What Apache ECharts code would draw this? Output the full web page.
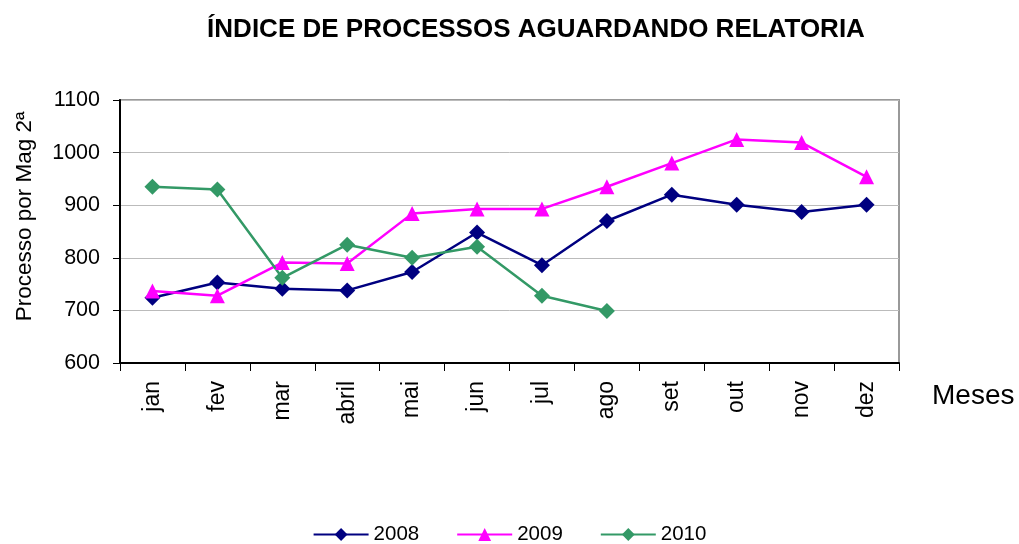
<!DOCTYPE html>
<html>
<head>
<meta charset="utf-8">
<script src="https://cdn.jsdelivr.net/npm/echarts@6/dist/echarts.min.js"></script>
<style>
  html, body { margin: 0; padding: 0; background: #fff; }
  #chart { width: 1019px; height: 544px; }
</style>
</head>
<body>
<div id="chart"></div>
<script>
// dados
const meses = ["jan", "fev", "mar", "abril", "mai", "jun", "jul", "ago", "set", "out", "nov", "dez"];
const serie2008 = [724, 753, 741, 738, 773, 848, 786, 870, 920, 901, 887, 901];
const serie2009 = [737, 728, 791, 789, 884, 893, 893, 935, 980, 1025, 1019, 954];
const serie2010 = [935, 930, 762, 825, 800, 821, 728, 699];
const yTicks = { min: 600, max: 1100, interval: 100 };

const fonte = "Arial, 'Liberation Sans', sans-serif";

let myChart = echarts.init(document.getElementById("chart"));

function linha(name, data, color, symbol, size) {
  return {
    name,
    type: "line",
    data,
    symbol,
    symbolSize: size,
    color,
    lineStyle: { color, width: 2.5 },
    itemStyle: { color },
    emphasis: { disabled: true },
  };
}

let option = {
  animation: false,
  title: [
    {
      text: "ÍNDICE DE PROCESSOS AGUARDANDO RELATORIA",
      left: 531,
      top: 12,
      textAlign: "center",
      textStyle: { fontFamily: fonte, fontSize: 26, fontWeight: "bold", color: "#000" },
    },
    {
      text: "Meses",
      left: 927,
      top: 377,
      textStyle: { fontFamily: fonte, fontSize: 28, fontWeight: "normal", color: "#000" },
    },
  ],
  grid: {
    left: 120,
    right: 120,
    top: 100,
    bottom: 181,
    show: true,
    borderColor: "#999",
    borderWidth: 2,
    containLabel: false,
  },
  legend: {
    top: 519,
    left: "center",
    itemWidth: 55,
    itemHeight: 16,
    itemGap: 37,
    textStyle: { fontFamily: fonte, fontSize: 20.5, color: "#000" },
    data: ["2008", "2009", "2010"],
  },
  xAxis: {
    type: "category",
    data: meses,
    boundaryGap: true,
    axisLine: { lineStyle: { color: "#000", width: 2 } },
    axisTick: { show: true, length: 8, lineStyle: { color: "#000" } },
    axisLabel: { rotate: 90, fontFamily: fonte, fontSize: 23, color: "#000", margin: 18 },
  },
  yAxis: {
    type: "value",
    min: yTicks.min,
    max: yTicks.max,
    interval: yTicks.interval,
    name: "Processo por Mag 2ª",
    nameLocation: "middle",
    nameGap: 84,
    nameTextStyle: { fontFamily: fonte, fontSize: 22.5, color: "#000", padding: [0, 0, 0, 30] },
    axisLine: { show: true, lineStyle: { color: "#000", width: 2 } },
    axisTick: { show: true, length: 7, lineStyle: { color: "#000" } },
    axisLabel: {
      fontFamily: fonte,
      fontSize: 21.5,
      color: "#000",
      margin: 20,
      formatter: (v) => String(v),
    },
    splitLine: { lineStyle: { color: "#bbb", width: 1 } },
  },
  series: [
    linha("2008", serie2008, "#000080", "diamond", 16),
    linha("2009", serie2009, "#FF00FF", "triangle", 15),
    linha("2010", serie2010, "#339966", "diamond", 16),
  ],
};
myChart.setOption(option);
</script>
</body>
</html>
